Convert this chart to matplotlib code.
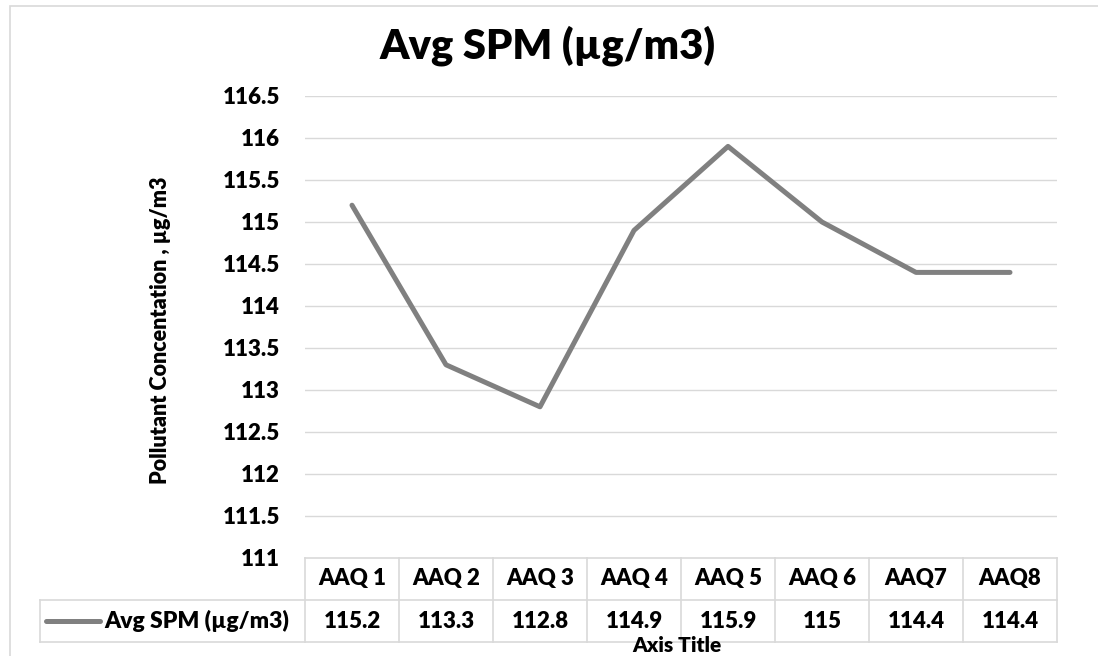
import matplotlib
matplotlib.use("Agg")
import matplotlib.pyplot as plt
from matplotlib.patches import Rectangle

categories = ["AAQ 1", "AAQ 2", "AAQ 3", "AAQ 4", "AAQ 5", "AAQ 6", "AAQ7", "AAQ8"]
avg_spm = [115.2, 113.3, 112.8, 114.9, 115.9, 115, 114.4, 114.4]
value_labels = ["115.2", "113.3", "112.8", "114.9", "115.9", "115", "114.4", "114.4"]
y_ticks = [111, 111.5, 112, 112.5, 113, 113.5, 114, 114.5, 115, 115.5, 116, 116.5]
y_tick_labels = ["111", "111.5", "112", "112.5", "113", "113.5", "114", "114.5", "115", "115.5", "116", "116.5"]

plt.rcParams["font.family"] = ["Lato", "DejaVu Sans"]
FW = "heavy"

W, H = 1098, 656
fig = plt.figure(figsize=(W / 100, H / 100), dpi=100)

def fx(px):
    return px / W

def fy(py):
    return 1 - py / H

# chart border
fig.patches.append(Rectangle((fx(10), fy(660)), fx(1100) - fx(10), fy(6) - fy(660),
                             transform=fig.transFigure, fill=False, edgecolor="#d9d9d9", lw=1.2))

left, right, top, bottom = 305, 1057, 96, 558
ax = fig.add_axes([fx(left), fy(bottom), fx(right) - fx(left), fy(top) - fy(bottom)])

n = len(categories)
x = [i + 0.5 for i in range(n)]
ax.set_xlim(0, n)
ax.set_ylim(111, 116.5)
ax.set_yticks(y_ticks)
ax.set_yticklabels(y_tick_labels, fontsize=16, fontweight=FW)
ax.tick_params(axis="y", length=0, pad=18)
ax.set_xticks([])
for t in y_ticks[1:]:
    ax.axhline(t, color="#d9d9d9", lw=1, zorder=0)
for s in ["top", "right", "left"]:
    ax.spines[s].set_visible(False)
ax.spines["bottom"].set_color("#d9d9d9")
ax.spines["bottom"].set_linewidth(1.2)

ax.plot(x, avg_spm, color="#808080", lw=3.6, solid_capstyle="round", solid_joinstyle="round")

# data table below the plot
row_h = 42 / (bottom - top)  # in axes units
grid_kw = dict(color="#d9d9d9", lw=1.2, clip_on=False, transform=ax.transAxes)
col_w = 1 / n
tl = -(left - 40) / (right - left)
for i in range(n + 1):
    ax.plot([i * col_w, i * col_w], [0, -2 * row_h], **grid_kw)
ax.plot([tl, 1], [-row_h, -row_h], **grid_kw)
ax.plot([tl, 1], [-2 * row_h, -2 * row_h], **grid_kw)
ax.plot([tl, tl], [-row_h, -2 * row_h], **grid_kw)
for i, c in enumerate(categories):
    ax.text((i + 0.5) * col_w, -0.5 * row_h, c, ha="center", va="center",
            fontsize=16, fontweight=FW, transform=ax.transAxes)
    ax.text((i + 0.5) * col_w, -1.5 * row_h, value_labels[i], ha="center", va="center",
            fontsize=16, fontweight=FW, transform=ax.transAxes)

# legend key inside the table
lx0 = -(left - 46) / (right - left)
lx1 = -(left - 100) / (right - left)
ax.plot([lx0, lx1], [-1.5 * row_h, -1.5 * row_h], color="#808080", lw=3.6,
        solid_capstyle="round", clip_on=False, transform=ax.transAxes)
ax.text(-(left - 104) / (right - left), -1.5 * row_h, "Avg SPM (µg/m3)", ha="left", va="center",
        fontsize=16.5, fontweight=FW, transform=ax.transAxes)

fig.text(fx(548), fy(46), "Avg SPM (µg/m3)", ha="center", va="center", fontsize=30, fontweight=FW)
fig.text(fx(677), fy(646), "Axis Title", ha="center", va="center", fontsize=15, fontweight=FW)
fig.text(fx(160), fy(330), "Pollutant Concentation , µg/m3", ha="center", va="center",
         rotation=90, fontsize=15.5, fontweight=FW)

fig.savefig("out.png", dpi=100)
